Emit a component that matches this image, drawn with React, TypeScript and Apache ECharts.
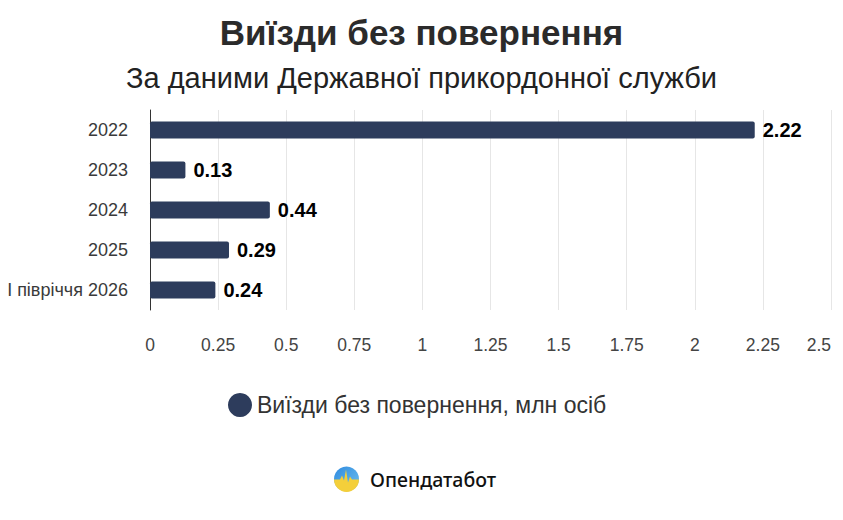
import React, { useEffect, useRef } from "react";
import * as echarts from "echarts";

const categories = ["2022", "2023", "2024", "2025", "I півріччя 2026"];
const values = [2.22, 0.13, 0.44, 0.29, 0.24];
const seriesName = "Виїзди без повернення, млн осіб";
const titleText = "Виїзди без повернення";
const subtitleText = "За даними Державної прикордонної служби";
const brandText = "Опендатабот";

const FONT = "'Liberation Sans', Arial, sans-serif";

export default function App() {
  const ref = useRef<HTMLDivElement>(null);
  useEffect(() => {
    document.body.style.margin = "0";
    if (!ref.current) return;
    echarts.graphic.registerShape(
      "logoWave",
      echarts.graphic.extendPath(
        "M0,13 L6,13 L8,9 L10,14 L12,3 L14,16 L16,10 L18,13 L25,13 A12.5,12.5 0 0 1 0,13 Z",
        {}
      )
    );
    const chart = echarts.init(ref.current, undefined, { renderer: "svg" });
    chart.setOption({
      animation: false,
      backgroundColor: "#ffffff",
      title: [
        {
          text: titleText,
          left: "center",
          top: 10,
          textStyle: { fontFamily: FONT, fontSize: 35, fontWeight: "bold", color: "#2b2b2b" },
        },
        {
          text: subtitleText,
          left: "center",
          top: 58,
          textStyle: { fontFamily: FONT, fontSize: 29, fontWeight: "normal", color: "#222" },
        },
      ],
      legend: {
        bottom: 98,
        left: 223,
        icon: "circle",
        itemWidth: 24,
        itemHeight: 24,
        itemGap: 10,
        textStyle: { fontFamily: FONT, fontSize: 23, color: "#333" },
        data: [seriesName],
      },
      grid: { left: 150, right: 12, top: 110, bottom: 210, containLabel: false },
      xAxis: {
        type: "value",
        min: 0,
        max: 2.5,
        interval: 0.25,
        axisLine: { show: false },
        axisTick: { show: false },
        splitLine: { show: true, lineStyle: { color: "#e6e6e6", width: 1 } },
        axisLabel: {
          fontFamily: FONT,
          fontSize: 17.5,
          color: "#444",
          margin: 26,
          alignMaxLabel: "right",
        },
      },
      yAxis: {
        type: "category",
        data: categories,
        inverse: true,
        axisLine: { show: true, lineStyle: { color: "#333", width: 1 } },
        axisTick: { show: false },
        axisLabel: { fontFamily: FONT, fontSize: 18, color: "#3a3a3a", margin: 22 },
      },
      series: [
        {
          name: seriesName,
          type: "bar",
          data: values,
          barWidth: 17,
          itemStyle: { color: "#2d3c5c", borderRadius: 2 },
          label: {
            show: true,
            position: "right",
            distance: 8,
            fontFamily: FONT,
            fontSize: 20,
            fontWeight: "bold",
            color: "#000",
          },
        },
      ],
      graphic: [
        {
          type: "circle",
          shape: { cx: 346.5, cy: 479, r: 12.5 },
          style: {
            fill: new echarts.graphic.LinearGradient(0, 0, 1, 1, [
              { offset: 0, color: "#2f8be0" },
              { offset: 1, color: "#6ec0ee" },
            ]),
          },
        },
        {
          type: "logoWave",
          x: 334,
          y: 466.5,
          scaleX: 1,
          scaleY: 1,
          style: { fill: "#f4cf3a" },
        },
        {
          type: "text",
          x: 370,
          y: 479,
          style: {
            text: brandText,
            fontFamily: "'Noto Sans', 'Open Sans', sans-serif",
            fontSize: 19.5,
            fontWeight: 500,
            fill: "#111",
            verticalAlign: "middle",
          },
        },
      ],
    });
    return () => chart.dispose();
  }, []);
  return (
    <div
      ref={ref}
      style={{ position: "absolute", left: 0, top: 0, width: 843, height: 520 }}
    />
  );
}
